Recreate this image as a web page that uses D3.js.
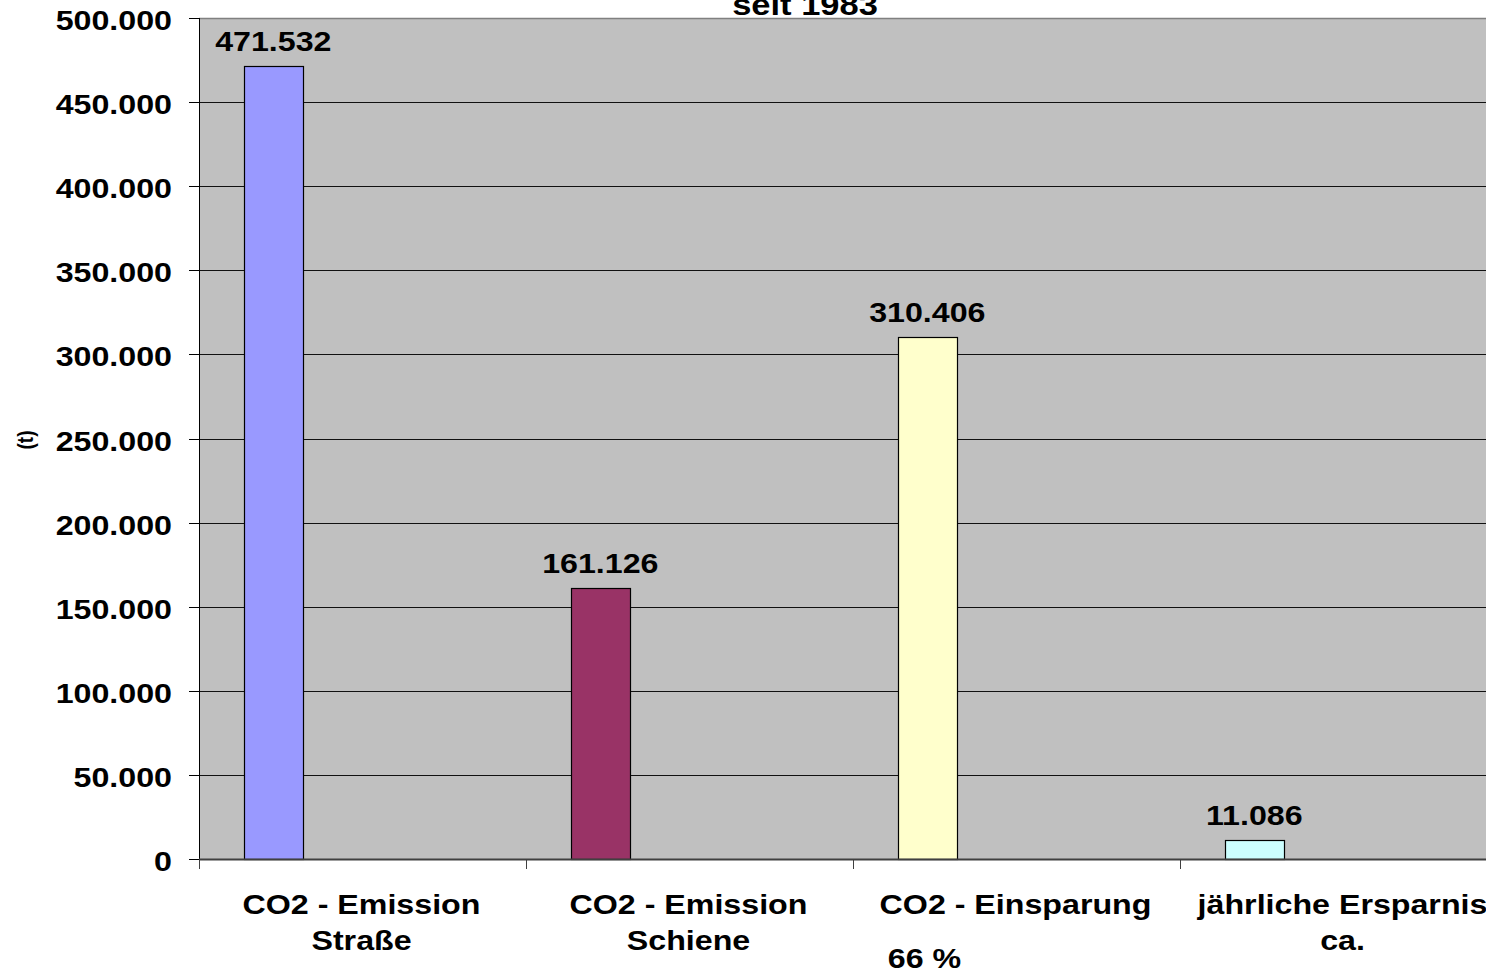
<!DOCTYPE html>
<html>
<head>
<meta charset="utf-8">
<script src="https://cdn.jsdelivr.net/npm/d3@7"></script>
<style>
  html, body { margin: 0; padding: 0; background: #ffffff; }
  svg { display: block; }
  text { font-family: "Liberation Sans", Arial, sans-serif; font-weight: bold; fill: #000; }
</style>
</head>
<body>
<svg id="chart" width="1486" height="973"></svg>
<script>
// Categories (label lines), bar values, colours and axis ticks
const categories = ["CO2 - Emission Straße", "CO2 - Emission Schiene", "CO2 - Einsparung", "jährliche Ersparnis ca."];
const categoryLines = [["CO2 - Emission", "Straße"], ["CO2 - Emission", "Schiene"], ["CO2 - Einsparung"], ["jährliche Ersparnis", "ca."]];
const values = [471532, 161126, 310406, 11086];
const barColors = ["#9999FF", "#993366", "#FFFFCC", "#CCFFFF"];
const yTicks = [0, 50000, 100000, 150000, 200000, 250000, 300000, 350000, 400000, 450000, 500000];
const titleText = "seit 1983";
const yAxisTitle = "(t)";
const savingNote = "66 %";

const svg = d3.select("#chart");
const plot = { left: 199, top: 18, bottom: 859, right: 1507 };
const SX = 1.15; // horizontal glyph stretch
const FS = 28;   // main label size
const fmt = d => d3.format(",")(d).replace(/,/g, ".");

const x = d3.scaleBand().domain(categories).range([plot.left, plot.right]).padding(0);
const slot = d3.scaleBand().domain(d3.range(4)).range([0, x.bandwidth()]).paddingInner(0).paddingOuter(0.75);
const y = d3.scaleLinear().domain([0, 500000]).range([plot.bottom, plot.top]);

// stretched text helper
function label(g, str, px, py, size, anchor) {
  return g.append("text")
    .attr("transform", `translate(${px},${py}) scale(${SX},1)`)
    .attr("text-anchor", anchor || "middle")
    .style("font-size", size + "px")
    .text(str);
}

// plot background
svg.append("rect")
  .attr("x", plot.left).attr("y", plot.top)
  .attr("width", plot.right - plot.left).attr("height", plot.bottom - plot.top)
  .attr("fill", "#C0C0C0");

// top border
svg.append("line")
  .attr("x1", plot.left).attr("x2", plot.right)
  .attr("y1", plot.top + 0.5).attr("y2", plot.top + 0.5)
  .attr("stroke", "#808080").attr("stroke-width", 1.5);

// gridlines
svg.append("g").selectAll("line")
  .data(yTicks.filter(t => t > 0 && t < 500000))
  .join("line")
  .attr("x1", plot.left).attr("x2", plot.right)
  .attr("y1", d => Math.round(y(d)) + 0.5).attr("y2", d => Math.round(y(d)) + 0.5)
  .attr("stroke", "#111").attr("stroke-width", 1);

// bars
svg.append("g").selectAll("rect")
  .data(values)
  .join("rect")
  .attr("x", (d, i) => Math.round(x(categories[i]) + slot(0)) + 0.5)
  .attr("y", d => Math.round(y(d)) + 0.5)
  .attr("width", Math.round(slot.bandwidth()))
  .attr("height", d => Math.round(y(0)) - Math.round(y(d)))
  .attr("fill", (d, i) => barColors[i])
  .attr("stroke", "#000").attr("stroke-width", 1.2);

// value labels
const vl = svg.append("g");
values.forEach((v, i) => {
  const cx = x(categories[i]) + slot(0) + slot.bandwidth() / 2;
  label(vl, fmt(v), cx, y(v) - 15, FS);
});

// y axis
const yAxis = svg.append("g");
yAxis.append("line")
  .attr("x1", plot.left + 0.5).attr("x2", plot.left + 0.5)
  .attr("y1", plot.top).attr("y2", plot.bottom)
  .attr("stroke", "#000").attr("stroke-width", 1);
yTicks.forEach(t => {
  yAxis.append("line")
    .attr("x1", plot.left - 10).attr("x2", plot.left)
    .attr("y1", Math.round(y(t)) + 0.5).attr("y2", Math.round(y(t)) + 0.5)
    .attr("stroke", "#000").attr("stroke-width", 1);
  label(yAxis, fmt(t), 172, y(t) + 12, FS, "end");
});

// x axis (zero line + category ticks)
const xAxis = svg.append("g");
xAxis.append("line")
  .attr("x1", plot.left).attr("x2", plot.right)
  .attr("y1", plot.bottom + 0.5).attr("y2", plot.bottom + 0.5)
  .attr("stroke", "#404040").attr("stroke-width", 2);
categories.forEach(c => {
  xAxis.append("line")
    .attr("x1", Math.round(x(c)) + 0.5).attr("x2", Math.round(x(c)) + 0.5)
    .attr("y1", plot.bottom).attr("y2", plot.bottom + 10)
    .attr("stroke", "#404040").attr("stroke-width", 1);
});

// category labels
categoryLines.forEach((lines, i) => {
  const cx = x(categories[i]) + x.bandwidth() / 2 - 1;
  lines.forEach((ln, k) => label(xAxis, ln, cx, 914 + k * 36, FS));
});
label(xAxis, savingNote, x(categories[2]) + x.bandwidth() / 2 - 92, 968, FS);

// y axis title
svg.append("text")
  .attr("transform", `translate(33,440) scale(${SX},1) rotate(-90)`)
  .attr("text-anchor", "middle")
  .style("font-size", "19px")
  .text(yAxisTitle);

// chart title (last line, partly above the top edge)
label(svg, titleText, 805, 15, 30);
</script>
</body>
</html>
